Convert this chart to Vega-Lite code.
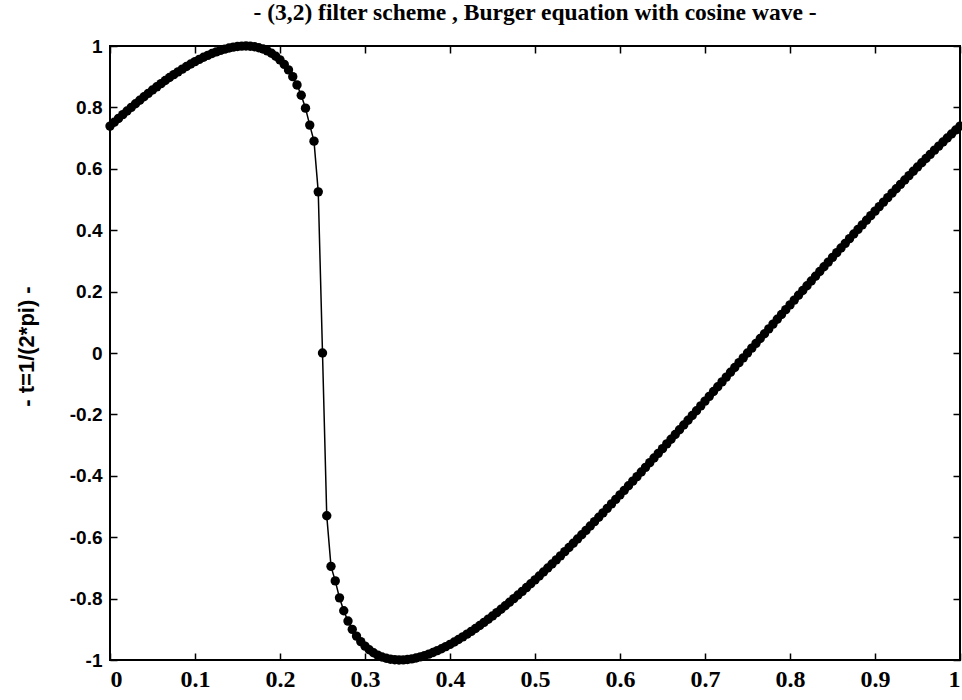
{
"$schema": "https://vega.github.io/schema/vega-lite/v6.json",
"width": 850, "height": 614,
"autosize": "none",
"padding": {"left": 110, "top": 46, "right": 2, "bottom": 40},
"background": "white",
"title": {"text": "- (3,2) filter scheme , Burger equation with cosine wave -", "font": "Liberation Serif", "fontSize": 23.5, "fontWeight": "bold", "color": "black", "offset": 13, "anchor": "middle"},
"config": {"view": {"stroke": "black", "strokeWidth": 2}, "axis": {"grid": false, "domain": false, "tickColor": "black", "tickWidth": 1.5, "tickSize": -7, "labelColor": "black", "titleColor": "black"}},
"data": {"values": [
{"x":0,"y":0.73909},{"x":0.005,"y":0.75165},{"x":0.01,"y":0.76405},{"x":0.015,"y":0.77629},{"x":0.02,"y":0.78835},{"x":0.025,"y":0.80022},{"x":0.03,"y":0.8119},{"x":0.035,"y":0.82338},{"x":0.04,"y":0.83464},{"x":0.045,"y":0.84569},
{"x":0.05,"y":0.8565},{"x":0.055,"y":0.86707},{"x":0.06,"y":0.87739},{"x":0.065,"y":0.88744},{"x":0.07,"y":0.89721},{"x":0.075,"y":0.90668},{"x":0.08,"y":0.91584},{"x":0.085,"y":0.92468},{"x":0.09,"y":0.93316},{"x":0.095,"y":0.94128},
{"x":0.1,"y":0.94902},{"x":0.105,"y":0.95634},{"x":0.11,"y":0.96322},{"x":0.115,"y":0.96963},{"x":0.12,"y":0.97555},{"x":0.125,"y":0.98094},{"x":0.13,"y":0.98576},{"x":0.135,"y":0.98997},{"x":0.14,"y":0.99352},{"x":0.145,"y":0.99636},
{"x":0.15,"y":0.99843},{"x":0.155,"y":0.99967},{"x":0.16,"y":0.99999},{"x":0.165,"y":0.9993},{"x":0.17,"y":0.99751},{"x":0.175,"y":0.99449},{"x":0.18,"y":0.99009},{"x":0.185,"y":0.98416},{"x":0.19,"y":0.97648},{"x":0.195,"y":0.96679},
{"x":0.2,"y":0.95479},{"x":0.205,"y":0.94006},{"x":0.21,"y":0.92207},{"x":0.215,"y":0.90011},{"x":0.22,"y":0.87317},{"x":0.225,"y":0.83976},{"x":0.23,"y":0.79754},{"x":0.235,"y":0.74239},{"x":0.24,"y":0.69},{"x":0.245,"y":0.525},
{"x":0.25,"y":0},{"x":0.255,"y":-0.53},{"x":0.26,"y":-0.695},{"x":0.265,"y":-0.74239},{"x":0.27,"y":-0.79754},{"x":0.275,"y":-0.83976},{"x":0.28,"y":-0.87317},{"x":0.285,"y":-0.90011},{"x":0.29,"y":-0.92207},{"x":0.295,"y":-0.94006},
{"x":0.3,"y":-0.95479},{"x":0.305,"y":-0.96679},{"x":0.31,"y":-0.97648},{"x":0.315,"y":-0.98416},{"x":0.32,"y":-0.99009},{"x":0.325,"y":-0.99449},{"x":0.33,"y":-0.99751},{"x":0.335,"y":-0.9993},{"x":0.34,"y":-0.99999},{"x":0.345,"y":-0.99967},
{"x":0.35,"y":-0.99843},{"x":0.355,"y":-0.99636},{"x":0.36,"y":-0.99352},{"x":0.365,"y":-0.98997},{"x":0.37,"y":-0.98576},{"x":0.375,"y":-0.98094},{"x":0.38,"y":-0.97555},{"x":0.385,"y":-0.96963},{"x":0.39,"y":-0.96322},{"x":0.395,"y":-0.95634},
{"x":0.4,"y":-0.94902},{"x":0.405,"y":-0.94128},{"x":0.41,"y":-0.93316},{"x":0.415,"y":-0.92468},{"x":0.42,"y":-0.91584},{"x":0.425,"y":-0.90668},{"x":0.43,"y":-0.89721},{"x":0.435,"y":-0.88744},{"x":0.44,"y":-0.87739},{"x":0.445,"y":-0.86707},
{"x":0.45,"y":-0.8565},{"x":0.455,"y":-0.84569},{"x":0.46,"y":-0.83464},{"x":0.465,"y":-0.82338},{"x":0.47,"y":-0.8119},{"x":0.475,"y":-0.80022},{"x":0.48,"y":-0.78835},{"x":0.485,"y":-0.77629},{"x":0.49,"y":-0.76405},{"x":0.495,"y":-0.75165},
{"x":0.5,"y":-0.73909},{"x":0.505,"y":-0.72636},{"x":0.51,"y":-0.71349},{"x":0.515,"y":-0.70048},{"x":0.52,"y":-0.68733},{"x":0.525,"y":-0.67405},{"x":0.53,"y":-0.66064},{"x":0.535,"y":-0.6471},{"x":0.54,"y":-0.63346},{"x":0.545,"y":-0.6197},
{"x":0.55,"y":-0.60583},{"x":0.555,"y":-0.59186},{"x":0.56,"y":-0.57779},{"x":0.565,"y":-0.56362},{"x":0.57,"y":-0.54937},{"x":0.575,"y":-0.53502},{"x":0.58,"y":-0.52059},{"x":0.585,"y":-0.50609},{"x":0.59,"y":-0.4915},{"x":0.595,"y":-0.47684},
{"x":0.6,"y":-0.46211},{"x":0.605,"y":-0.44731},{"x":0.61,"y":-0.43244},{"x":0.615,"y":-0.41752},{"x":0.62,"y":-0.40253},{"x":0.625,"y":-0.38749},{"x":0.63,"y":-0.37239},{"x":0.635,"y":-0.35725},{"x":0.64,"y":-0.34205},{"x":0.645,"y":-0.3268},
{"x":0.65,"y":-0.31152},{"x":0.655,"y":-0.2962},{"x":0.66,"y":-0.28084},{"x":0.665,"y":-0.26543},{"x":0.67,"y":-0.24998},{"x":0.675,"y":-0.23451},{"x":0.68,"y":-0.21901},{"x":0.685,"y":-0.20349},{"x":0.69,"y":-0.18793},{"x":0.695,"y":-0.17235},
{"x":0.7,"y":-0.15675},{"x":0.705,"y":-0.14114},{"x":0.71,"y":-0.1255},{"x":0.715,"y":-0.10985},{"x":0.72,"y":-0.09418},{"x":0.725,"y":-0.0785},{"x":0.73,"y":-0.06281},{"x":0.735,"y":-0.04712},{"x":0.74,"y":-0.03141},{"x":0.745,"y":-0.01571},
{"x":0.75,"y":0},{"x":0.755,"y":0.01571},{"x":0.76,"y":0.03141},{"x":0.765,"y":0.04712},{"x":0.77,"y":0.06281},{"x":0.775,"y":0.0785},{"x":0.78,"y":0.09418},{"x":0.785,"y":0.10985},{"x":0.79,"y":0.1255},{"x":0.795,"y":0.14114},
{"x":0.8,"y":0.15675},{"x":0.805,"y":0.17235},{"x":0.81,"y":0.18793},{"x":0.815,"y":0.20349},{"x":0.82,"y":0.21901},{"x":0.825,"y":0.23451},{"x":0.83,"y":0.24998},{"x":0.835,"y":0.26543},{"x":0.84,"y":0.28084},{"x":0.845,"y":0.2962},
{"x":0.85,"y":0.31152},{"x":0.855,"y":0.3268},{"x":0.86,"y":0.34205},{"x":0.865,"y":0.35725},{"x":0.87,"y":0.37239},{"x":0.875,"y":0.38749},{"x":0.88,"y":0.40253},{"x":0.885,"y":0.41752},{"x":0.89,"y":0.43244},{"x":0.895,"y":0.44731},
{"x":0.9,"y":0.46211},{"x":0.905,"y":0.47684},{"x":0.91,"y":0.4915},{"x":0.915,"y":0.50609},{"x":0.92,"y":0.52059},{"x":0.925,"y":0.53502},{"x":0.93,"y":0.54937},{"x":0.935,"y":0.56362},{"x":0.94,"y":0.57779},{"x":0.945,"y":0.59186},
{"x":0.95,"y":0.60583},{"x":0.955,"y":0.6197},{"x":0.96,"y":0.63346},{"x":0.965,"y":0.6471},{"x":0.97,"y":0.66064},{"x":0.975,"y":0.67405},{"x":0.98,"y":0.68733},{"x":0.985,"y":0.70048},{"x":0.99,"y":0.71349},{"x":0.995,"y":0.72636},
{"x":1,"y":0.73909}
]},
"layer": [
{"mark": {"type": "line", "color": "black", "strokeWidth": 1.5},
 "encoding": {
  "x": {"field": "x", "type": "quantitative", "scale": {"domain": [0, 1], "nice": false, "zero": false},
        "axis": {"orient": "bottom", "values": [0,0.1,0.2,0.3,0.4,0.5,0.6,0.7,0.8,0.9,1], "labelExpr": "'' + datum.value", "labelFont": "Liberation Serif", "labelFontWeight": "bold", "labelFontSize": 24, "labelPadding": 14, "labelBaseline": "top", "title": null}},
  "y": {"field": "y", "type": "quantitative", "scale": {"domain": [-1, 1], "nice": false, "zero": false},
        "axis": {"orient": "left", "values": [-1,-0.8,-0.6,-0.4,-0.2,0,0.2,0.4,0.6,0.8,1], "labelExpr": "'' + datum.value", "labelFont": "Liberation Sans", "labelFontWeight": "bold", "labelFontSize": 19, "labelPadding": 15,
                 "title": "- t=1/(2*pi) -", "titleFont": "Liberation Sans", "titleFontWeight": "bold", "titleFontSize": 22, "titleX": -84, "titleY": 300, "titleAngle": -90, "titleAlign": "center", "titleBaseline": "middle"}}
 }},
{"mark": {"type": "point", "filled": true, "color": "black", "size": 88, "opacity": 1},
 "encoding": {
  "x": {"field": "x", "type": "quantitative", "axis": {"orient": "top", "values": [0,0.1,0.2,0.3,0.4,0.5,0.6,0.7,0.8,0.9,1], "labels": false, "title": null}},
  "y": {"field": "y", "type": "quantitative", "axis": {"orient": "right", "values": [-1,-0.8,-0.6,-0.4,-0.2,0,0.2,0.4,0.6,0.8,1], "labels": false, "title": null}}
 }}
]
}
